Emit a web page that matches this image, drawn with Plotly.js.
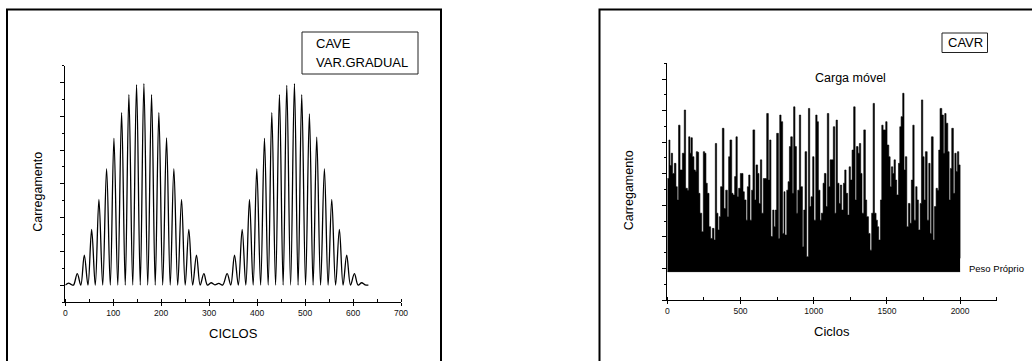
<!DOCTYPE html>
<html>
<head>
<meta charset="utf-8">
<script src="https://cdn.plot.ly/plotly-3.0.1.min.js"></script>
<style>html,body{margin:0;padding:0;background:#fff;}#chart{width:1032px;height:361px;}</style>
</head>
<body>
<div id="chart"></div>
<script>
// ---- Left panel: CAVE / VAR.GRADUAL (peak and trough vertices)
const cavCycles = [0,7,12,17,25,32.3,39.6,47.3,54.9,62.5,70.1,78,86.1,93.8,101.4,109.4,117.4,125,132.6,140.6,148.6,156.3,163.9,171.9,179.9,187.5,195.1,203.1,211.1,218.8,226.4,234.4,242.4,250,257.6,265.6,273.6,281.3,288.9,296.5,304,312,320,328,337.5,345,352.8,360.8,368.8,376.4,384,391.7,399.3,407.3,415.3,423,430.6,438.5,446.5,454.2,461.8,469.8,477.8,485.4,493,501,509,516.7,524.3,532.3,540.3,548,555.6,563.6,571.5,579.2,586.8,594.8,602.8,610.6,618,625,632];
const cavLoad = [0,0.06,0.02,0,0.34,0,0.89,0,1.65,0,2.54,0,3.45,0,4.35,0,5.11,0,5.64,0,5.94,0,5.97,0,5.64,0,5.11,0,4.36,0,3.45,0,2.54,0,1.65,0,0.89,0,0.34,0,0.07,0.01,0.05,0,0.34,0,0.89,0,1.65,0,2.54,0,3.45,0,4.35,0,5.11,0,5.64,0,5.92,0,5.97,0,5.64,0,5.07,0,4.38,0,3.45,0,2.54,0,1.65,0,0.89,0,0.34,0,0.07,0.01,0];

// ---- Right panel: CAVR (random load peaks above the dead load)
const pesoProprio = 0.9;
const cavrCycles = [0,11,18,27,36,48,59,68,77,87,103,116,125,137,146,155,162,171,182,191,198,207,214,223,235,246,255,264,273,285,296,308,319,328,337,346,355,364,376,387,399,410,419,428,440,449,460,469,478,487,499,508,517,526,538,547,556,565,576,585,597,606,617,626,636,645,656,665,679,690,699,708,720,729,738,747,759,768,777,788,797,804,816,825,834,843,854,863,872,882,891,902,911,923,932,941,952,964,973,982,993,1002,1014,1023,1032,1043,1052,1064,1073,1084,1093,1103,1112,1123,1134,1144,1153,1162,1173,1182,1191,1203,1212,1221,1232,1242,1251,1262,1273,1283,1292,1303,1312,1321,1330,1342,1353,1362,1374,1385,1396,1406,1415,1426,1435,1444,1456,1465,1474,1483,1492,1501,1513,1522,1531,1540,1549,1558,1567,1579,1588,1597,1608,1617,1626,1636,1647,1658,1667,1677,1686,1697,1706,1715,1727,1736,1745,1754,1763,1775,1786,1795,1804,1816,1825,1836,1845,1854,1863,1875,1886,1895,1904,1916,1925,1934,1943,1954,1964,1973,1982,1991,2000];
const cavrLoad = [3.85,5.07,4.26,4.65,4.01,4.33,3.59,3.17,5.54,4.12,4.65,6.02,3.54,3.48,5.17,4.65,5.14,4.54,4.12,4.07,4.70,4.68,3.38,2.75,2.16,4.70,4.65,3.70,3.38,2.32,1.95,2.27,1.90,4.96,2.75,2.22,2.64,3.59,5.44,2.90,3.48,2.64,4.54,5.07,3.38,3.33,3.91,5.17,3.27,3.54,4.01,4.01,3.43,3.17,2.53,3.59,3.96,2.53,3.48,5.39,3.17,4.28,4.01,3.06,4.44,2.75,3.85,3.85,5.91,3.80,5.07,2.01,2.85,2.32,2.85,5.28,1.95,5.86,5.65,2.11,3.43,2.06,3.48,3.75,4.86,5.17,3.38,6.12,4.86,2.75,3.48,5.86,3.59,1.69,2.85,4.70,1.37,6.07,2.96,3.27,4.54,2.53,5.86,5.65,3.48,2.53,2.75,3.70,4.01,2.96,5.91,3.59,4.44,4.44,5.49,2.75,5.70,3.70,3.06,3.64,2.85,3.70,4.12,3.38,2.69,4.22,3.80,4.75,6.12,3.17,4.86,4.65,4.96,4.01,2.75,5.39,3.17,2.64,2.11,1.58,2.75,6.23,2.75,2.53,2.32,1.90,3.17,5.54,5.39,5.39,5.65,4.91,4.54,3.59,4.22,4.01,4.44,3.80,3.33,4.33,5.49,5.81,6.55,4.12,4.54,2.32,3.06,2.43,3.80,5.54,2.53,3.59,3.17,2.22,3.06,6.34,4.54,3.17,4.70,2.53,4.33,2.11,5.17,1.90,2.96,3.54,3.48,4.75,6.07,5.86,4.65,5.91,5.60,4.70,3.17,4.17,5.44,3.38,4.65,4.07,4.70,4.28,1.32];

// ---- Tick labels
const leftTicks = [0,100,200,300,400,500,600,700];
const rightTicks = [0,500,1000,1500,2000];

const W = 1032, H = 361;
const px = x => x / W;
const py = y => 1 - y / H;
const FONT = 'Liberation Sans, Arial, sans-serif';

const traces = [
  {x: cavCycles, y: cavLoad, type: 'scatter', mode: 'lines',
   line: {color: '#000', width: 1.3, shape: 'spline', smoothing: 1},
   xaxis: 'x', yaxis: 'y', hoverinfo: 'skip'},
  {x: [0, 2000], y: [pesoProprio, pesoProprio], type: 'scatter', mode: 'lines',
   line: {color: '#000', width: 1}, xaxis: 'x2', yaxis: 'y2', hoverinfo: 'skip'},
  {x: cavrCycles, y: cavrLoad, type: 'scatter', mode: 'lines',
   line: {color: '#000', width: 0.6, shape: 'hv'}, fill: 'tonexty', fillcolor: '#000',
   xaxis: 'x2', yaxis: 'y2', hoverinfo: 'skip'}
];

const axisCommon = {
  showgrid: false, zeroline: false, showline: true, linecolor: '#000', linewidth: 1.2,
  mirror: false, ticks: 'outside', tickcolor: '#000', tickwidth: 1,
  tickfont: {family: FONT, size: 8.5, color: '#111'}, fixedrange: true
};

const layout = {
  width: W, height: H, margin: {l: 0, r: 0, t: 0, b: 0},
  paper_bgcolor: '#fff', plot_bgcolor: '#fff', showlegend: false,
  xaxis: Object.assign({}, axisCommon, {
    domain: [px(65.3), px(401)], range: [0, 700], anchor: 'y',
    tickvals: leftTicks, ticktext: leftTicks.map(String), ticklen: 3,
    minor: {dtick: 50, tick0: 0, ticks: 'inside', ticklen: 3, tickcolor: '#000', tickwidth: 1}
  }),
  yaxis: Object.assign({}, axisCommon, {
    domain: [py(302), py(65.7)], range: [-0.5, 6.5], anchor: 'x',
    dtick: 1, tick0: 0, ticklen: 4, showticklabels: false,
    minor: {dtick: 0.5, tick0: 0, ticks: 'outside', ticklen: 2.5, tickcolor: '#000', tickwidth: 1}
  }),
  xaxis2: Object.assign({}, axisCommon, {
    domain: [px(667.3), px(996.7)], range: [0, 2250], anchor: 'y2',
    tickvals: rightTicks, ticktext: rightTicks.map(String), ticklen: 3,
    minor: {dtick: 250, tick0: 0, ticks: 'inside', ticklen: 3, tickcolor: '#000', tickwidth: 1}
  }),
  yaxis2: Object.assign({}, axisCommon, {
    domain: [py(300), py(63.3)], range: [0, 7.5], anchor: 'x2',
    dtick: 1, tick0: 0, ticklen: 4, showticklabels: false,
    minor: {dtick: 0.5, tick0: 0, ticks: 'outside', ticklen: 2.5, tickcolor: '#000', tickwidth: 1}
  }),
  shapes: [
    {type: 'rect', xref: 'paper', yref: 'paper', x0: px(7), x1: px(441), y0: py(375), y1: py(9.5),
     line: {color: '#000', width: 2}},
    {type: 'rect', xref: 'paper', yref: 'paper', x0: px(599.5), x1: px(1045), y0: py(375), y1: py(9.5),
     line: {color: '#000', width: 2}},
    {type: 'rect', xref: 'paper', yref: 'paper', x0: px(302), x1: px(418), y0: py(74), y1: py(32),
     line: {color: '#222', width: 1}},
    {type: 'rect', xref: 'paper', yref: 'paper', x0: px(942), x1: px(987.5), y0: py(52.5), y1: py(33),
     line: {color: '#222', width: 1}}
  ],
  annotations: [
    {text: 'CAVE', x: px(314), y: py(44), xanchor: 'left', yanchor: 'middle'},
    {text: 'VAR.GRADUAL', x: px(314), y: py(62), xanchor: 'left', yanchor: 'middle'},
    {text: 'CAVR', x: px(965), y: py(43), xanchor: 'center', yanchor: 'middle'},
    {text: 'Carga móvel', x: px(850), y: py(78), xanchor: 'center', yanchor: 'middle', font: {size: 12.5}},
    {text: 'Peso Próprio', x: px(966.5), y: py(268.5), xanchor: 'left', yanchor: 'middle', font: {size: 9.5}},
    {text: 'CICLOS', x: px(233), y: py(333), xanchor: 'center', yanchor: 'middle'},
    {text: 'Ciclos', x: px(832), y: py(331), xanchor: 'center', yanchor: 'middle'},
    {text: 'Carregamento', x: px(37.7), y: py(192), xanchor: 'center', yanchor: 'middle', textangle: -90, font: {size: 12.5}},
    {text: 'Carregamento', x: px(629.3), y: py(190), xanchor: 'center', yanchor: 'middle', textangle: -90, font: {size: 12.5}}
  ].map(a => Object.assign({xref: 'paper', yref: 'paper', showarrow: false,
      font: Object.assign({family: FONT, size: 13, color: '#000'}, a.font || {})}, a, {
      font: Object.assign({family: FONT, size: 13, color: '#000'}, a.font || {})}))
};

Plotly.newPlot('chart', traces, layout, {displayModeBar: false, staticPlot: true});
</script>
</body>
</html>
